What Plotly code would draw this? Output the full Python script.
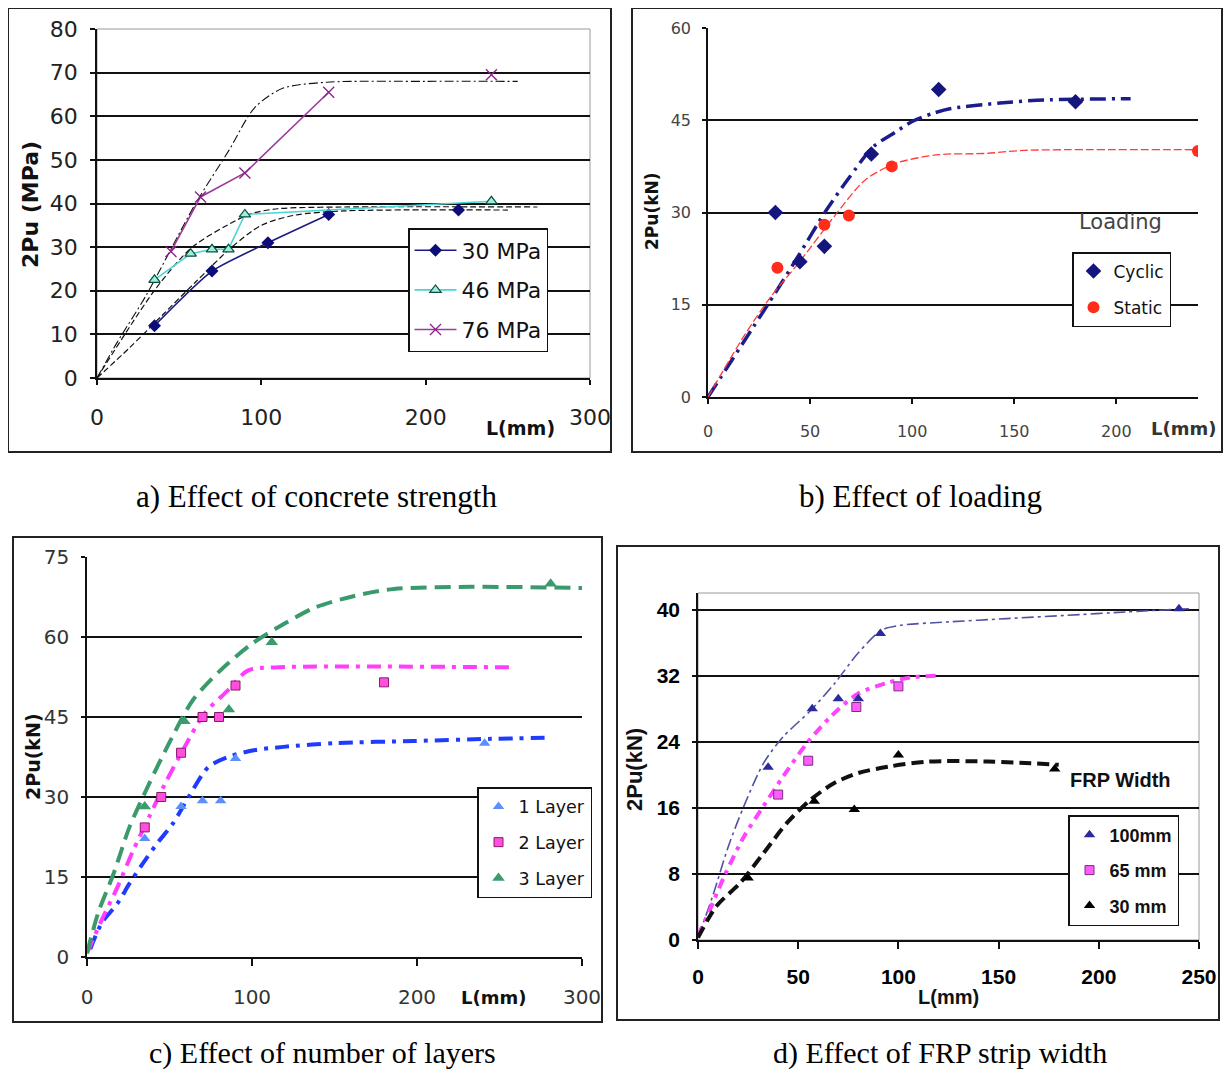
import plotly.graph_objects as go

# The page body has an 8px margin, so the figure is 16px smaller than the window and
# every reference pixel position is shifted by 8px.
OFF = 8
W, H = 1231 - 2 * OFF, 1082 - 2 * OFF


def fx(px):
    return (px - OFF) / W


def fy(py):
    return 1 - (py - OFF) / H


# ---------------- Panel a: Effect of concrete strength ----------------
A30_X = [35, 70, 104, 141, 220]
A30_Y = [12, 24.5, 31, 37.5, 38.5]
A46_X = [35, 57, 70, 80, 90, 240]
A46_Y = [22.5, 28.5, 29.5, 29.5, 37.5, 40.5]
A76_X = [45, 63, 90, 141, 240]
A76_Y = [29, 41.5, 47, 65.5, 69.5]
A76_FIT_X = [0, 12, 30, 60, 80, 96, 113, 140, 200, 256]
A76_FIT_Y = [0, 8, 19, 40, 52, 62, 66.4, 67.8, 68, 68]
A46_FIT_X = [0, 36, 58, 84, 94, 110, 150, 268]
A46_FIT_Y = [0, 20.6, 30, 36, 37.7, 38.8, 39.2, 39.2]
A30_FIT_X = [0, 20, 40, 60, 82, 100, 120, 150, 250]
A30_FIT_Y = [0, 7, 14.5, 22, 30, 35, 37.3, 38.3, 38.5]
A_XTICKS = [0, 100, 200, 300]
A_YTICKS = [0, 10, 20, 30, 40, 50, 60, 70, 80]

# ---------------- Panel b: Effect of loading ----------------
B_CYC_X = [33, 45, 57, 80, 113, 180]
B_CYC_Y = [30, 22, 24.5, 39.5, 50, 48]
B_STA_X = [34, 57, 69, 90, 240]
B_STA_Y = [21, 28, 29.5, 37.5, 40]
B_CYC_FIT_X = [0, 35, 44, 58, 69, 81, 91, 100, 110, 119, 143, 165, 207]
B_CYC_FIT_Y = [0, 18, 22.8, 30.4, 35.6, 40.7, 42.9, 44.8, 46.1, 46.9, 47.8, 48.3, 48.5]
B_STA_FIT_X = [0, 17.6, 31, 44.4, 61.7, 77, 92, 113, 136, 155, 240]
B_STA_FIT_Y = [0, 9.9, 16.4, 21.8, 29.3, 35.3, 38, 39.4, 39.6, 40.1, 40.2]
B_XTICKS = [0, 50, 100, 150, 200]
B_YTICKS = [0, 15, 30, 45, 60]

# ---------------- Panel c: Effect of number of layers ----------------
C1_X = [35, 57, 70, 81, 90, 241]
C1_Y = [22.2, 28.2, 29.3, 29.3, 37.2, 40.1]
C2_X = [35, 45, 57, 70, 80, 90, 180]
C2_Y = [24.3, 30, 38.3, 45, 45, 50.9, 51.5]
C3_X = [35, 59, 86, 112, 281]
C3_Y = [28.2, 44.2, 46.4, 59, 70]
C1_FIT_X = [2, 9, 18.6, 25.8, 34, 42.5, 52, 61.6, 73.5, 85.4, 102, 119, 150, 198, 245, 280]
C1_FIT_Y = [1.5, 6.4, 10.1, 13.8, 17.6, 21.3, 25, 30, 35.6, 37.5, 38.8, 39.4, 40.1, 40.5, 40.9, 41.1]
C2_FIT_X = [0, 9, 18.6, 28, 37.7, 47.3, 59.2, 71, 85.4, 97.4, 114, 260]
C2_FIT_Y = [0.7, 7, 13.2, 20, 26.3, 32.5, 39.4, 45.6, 50, 53.7, 54.3, 54.3]
C3_FIT_X = [0, 6.7, 16.2, 25.8, 37.7, 49.6, 64, 80.7, 99.8, 119, 138, 162, 186, 233, 300]
C3_FIT_Y = [0.7, 8.2, 15.7, 24.4, 32.5, 40, 48.1, 53.7, 58.7, 62.4, 65.5, 67.7, 69, 69.4, 69.2]
C_XTICKS = [0, 100, 200, 300]
C_YTICKS = [0, 15, 30, 45, 60, 75]

# ---------------- Panel d: Effect of FRP strip width ----------------
D100_X = [35, 57, 70, 80, 91, 240]
D100_Y = [20.9, 28, 29.2, 29.2, 37.1, 40.1]
D65_X = [40, 55, 79, 100]
D65_Y = [17.6, 21.7, 28.2, 30.7]
D30_X = [25, 58, 78, 100, 178]
D30_Y = [7.5, 16.8, 15.8, 22.4, 20.7]
D100_FIT_X = [0, 7.3, 15.1, 22.9, 32.7, 42.5, 56.3, 68, 79.8, 91.6, 101.4, 125, 154, 184, 213, 245]
D100_FIT_Y = [0.3, 5.3, 11.3, 16.2, 21.4, 24.6, 27.8, 31, 34.7, 37.5, 38.1, 38.5, 38.9, 39.3, 39.7, 40.1]
D65_FIT_X = [0, 5.3, 13.1, 22.9, 32.7, 42.5, 54.3, 66.1, 79.8, 95.5, 107, 121]
D65_FIT_Y = [0.5, 3.3, 7.7, 12.5, 16.2, 19.8, 23.8, 27, 29.8, 31.2, 31.8, 32]
D30_FIT_X = [0, 9.2, 21, 32.7, 44.5, 56.3, 68, 79.8, 95.5, 115, 144.5, 166, 180]
D30_FIT_Y = [0.3, 4.1, 6.9, 10.5, 14.2, 17, 19, 20.2, 21, 21.6, 21.6, 21.4, 21.2]
D_XTICKS = [0, 50, 100, 150, 200, 250]
D_YTICKS = [0, 8, 16, 24, 32, 40]

SANS = "DejaVu Sans"
ARIAL = "Liberation Sans"
SERIF = "Liberation Serif"

fig = go.Figure()


def add(ax, **kw):
    fig.add_trace(go.Scatter(xaxis="x" + ax, yaxis="y" + ax, **kw))


def fit(ax, x, y, color, width, dash, smooth=0.8):
    add(ax, x=x, y=y, mode="lines", showlegend=False, hoverinfo="skip",
        line=dict(color=color, width=width, dash=dash, shape="spline", smoothing=smooth))


def gap_after(vals, n):
    # the measured curve is drawn through the first n points only
    return list(vals[:n]) + [None] + list(vals[n:])


# ---- panel a traces
fit("", A76_FIT_X, A76_FIT_Y, "#111111", 1.1, "9px,3px,2px,3px")
fit("", A46_FIT_X, A46_FIT_Y, "#111111", 1.2, "6px,3px")
fit("", A30_FIT_X, A30_FIT_Y, "#111111", 1.2, "6px,3px")
add("", x=gap_after(A30_X, 4), y=gap_after(A30_Y, 4), mode="lines+markers", name="30 MPa",
    legend="legend", legendgroup="a1", connectgaps=False,
    marker=dict(symbol="diamond", size=10, color="#0d0d7a"),
    line=dict(color="#1a1a80", width=1.6, shape="spline", smoothing=0.6))
add("", x=A46_X, y=A46_Y, mode="lines+markers", name="46 MPa", legend="legend",
    legendgroup="a2",
    marker=dict(symbol="triangle-up", size=10, color="#9ef0d8",
                line=dict(color="#0b4d40", width=1.2)),
    line=dict(color="#45d6d6", width=1.6))
add("", x=gap_after(A76_X, 4), y=gap_after(A76_Y, 4), mode="lines+markers", name="76 MPa",
    legend="legend", legendgroup="a3", connectgaps=False,
    marker=dict(symbol="x-thin-open", size=11, color="#8a1f8a",
                line=dict(color="#8a1f8a", width=1.3)),
    line=dict(color="#9b3b9b", width=1.6))

# ---- panel b traces
fit("2", B_CYC_FIT_X, B_CYC_FIT_Y, "#1c1c8c", 3.5, "16px,6px,3px,6px")
fit("2", B_STA_FIT_X, B_STA_FIT_Y, "#ff3b3b", 1.3, "8px,3px")
add("2", x=B_CYC_X, y=B_CYC_Y, mode="markers", name="Cyclic", legend="legend2",
    legendgroup="b1", marker=dict(symbol="diamond", size=12, color="#15157e"))
add("2", x=B_STA_X, y=B_STA_Y, mode="markers", name="Static", legend="legend2",
    legendgroup="b2", marker=dict(symbol="circle", size=12, color="#ff2d1a"))

# ---- panel c traces
fit("3", C1_FIT_X, C1_FIT_Y, "#1f3bff", 4, "14px,7px,4px,7px")
fit("3", C2_FIT_X, C2_FIT_Y, "#ff3cff", 4, "14px,7px,4px,7px")
fit("3", C3_FIT_X, C3_FIT_Y, "#3b9a6c", 4, "16px,8px")
add("3", x=C1_X, y=C1_Y, mode="markers", name="1 Layer", legend="legend3",
    legendgroup="c1", marker=dict(symbol="triangle-up", size=10, color="#5b8ff9"))
add("3", x=C2_X, y=C2_Y, mode="markers", name="2 Layer", legend="legend3",
    legendgroup="c2", marker=dict(symbol="square", size=9, color="#ff4fdc",
                                  line=dict(color="#8b1a6b", width=1)))
add("3", x=C3_X, y=C3_Y, mode="markers", name="3 Layer", legend="legend3",
    legendgroup="c3", marker=dict(symbol="triangle-up", size=11, color="#3c9b6e"))

# ---- panel d traces
fit("4", D100_FIT_X, D100_FIT_Y, "#5252a3", 1.6, "12px,4px,3px,4px")
fit("4", D65_FIT_X, D65_FIT_Y, "#ff44ff", 4, "10px,6px,4px,6px")
fit("4", D30_FIT_X, D30_FIT_Y, "#111111", 4, "12px,6px")
add("4", x=D100_X, y=D100_Y, mode="markers", name="100mm", legend="legend4",
    legendgroup="d1", marker=dict(symbol="triangle-up", size=10, color="#2b2b9b"))
add("4", x=D65_X, y=D65_Y, mode="markers", name="65 mm", legend="legend4",
    legendgroup="d2", marker=dict(symbol="square", size=9, color="#ff5cff",
                                  line=dict(color="#7b2f7b", width=1)))
add("4", x=D30_X, y=D30_Y, mode="markers", name="30 mm", legend="legend4",
    legendgroup="d3", marker=dict(symbol="triangle-up", size=10, color="#000000"))


def xax(domain, rng, ticks, fam, size, color, ticklen, standoff, anchor, bold=False):
    return dict(domain=domain, range=rng, tickvals=ticks, showgrid=False, zeroline=False,
                showline=True, linecolor="#111111", linewidth=1.5, anchor=anchor,
                ticks="outside", ticklen=ticklen, tickcolor="#111111", tickwidth=1.5,
                ticklabelstandoff=standoff, automargin=False,
                tickfont=dict(family=fam, size=size, color=color,
                              weight="bold" if bold else "normal"),
                fixedrange=True)


def yax(domain, rng, ticks, fam, size, color, ticklen, standoff, anchor, bold=False):
    return dict(domain=domain, range=rng, tickvals=ticks, showgrid=True, gridcolor="#111111",
                gridwidth=1.5, zeroline=False, showline=True, linecolor="#111111",
                linewidth=1.5, ticks="outside", ticklen=ticklen, tickcolor="#111111",
                tickwidth=1.5, ticklabelstandoff=standoff, anchor=anchor, automargin=False,
                tickfont=dict(family=fam, size=size, color=color,
                              weight="bold" if bold else "normal"),
                fixedrange=True)


def legend(x, y, fam, size, gap, itemwidth=30, bold=False, bw=1.5):
    return dict(x=fx(x), y=fy(y), xanchor="left", yanchor="top", bgcolor="white",
                bordercolor="#111111", borderwidth=bw, traceorder="grouped",
                tracegroupgap=gap, itemwidth=itemwidth,
                font=dict(family=fam, size=size, color="#111111",
                          weight="bold" if bold else "normal"))


ax_a_x = xax([fx(97), fx(590)], [0, 300], A_XTICKS, SANS, 22, "#222222", 5, 14, "y")
ax_a_y = yax([fy(378), fy(29)], [0, 80], A_YTICKS, SANS, 22, "#222222", 5, 8, "x")
ax_b_x = xax([fx(708), fx(1198)], [0, 240], B_XTICKS, SANS, 16, "#444444", 5, 14, "y2")
ax_b_y = yax([fy(397), fy(28)], [0, 60], B_YTICKS, SANS, 16, "#444444", 4, 8, "x2")
ax_c_x = xax([fx(87), fx(582)], [0, 300], C_XTICKS, SANS, 20, "#333333", 7, 14, "y3")
ax_c_y = yax([fy(957), fy(557)], [0, 75], C_YTICKS, SANS, 20, "#333333", 4, 8, "x3")
ax_d_x = xax([fx(698), fx(1199)], [0, 250], D_XTICKS, ARIAL, 21, "#000000", 7, 10, "y4",
             bold=True)
ax_d_y = yax([fy(940), fy(593)], [0, 42], D_YTICKS, ARIAL, 21, "#000000", 4, 8, "x4",
             bold=True)

annotations = []


def text(x, y, s, fam, size, color="#111111", bold=False, angle=0, xanchor="center"):
    annotations.append(dict(x=fx(x), y=fy(y), xref="paper", yref="paper", text=s,
                            showarrow=False, textangle=angle, xanchor=xanchor,
                            yanchor="middle",
                            font=dict(family=fam, size=size, color=color,
                                      weight="bold" if bold else "normal")))


# axis titles
text(30, 205, "2Pu (MPa)", SANS, 22, bold=True, angle=-90)
text(520, 428, "L(mm)", SANS, 19, bold=True)
text(652, 212, "2Pu(kN)", SANS, 17, bold=True, angle=-90)
text(1183, 428, "L(mm)", SANS, 18, color="#333333", bold=True)
text(33, 757, "2Pu(kN)", SANS, 19, bold=True, angle=-90)
text(493, 997, "L(mm)", SANS, 18, bold=True)
text(634, 770, "2Pu(kN)", ARIAL, 22, bold=True, angle=-90)
text(948, 997, "L(mm)", ARIAL, 20, bold=True)
# panel notes
text(1120, 222, "Loading", SANS, 21, color="#444444")
text(1120, 780, "FRP Width", ARIAL, 20, bold=True)
# captions
text(316, 496, "a) Effect of concrete strength", SERIF, 31, color="#000000")
text(920, 496, "b) Effect of loading", SERIF, 31, color="#000000")
text(322, 1053, "c) Effect of number of layers", SERIF, 30, color="#000000")
text(940, 1053, "d) Effect of FRP strip width", SERIF, 30, color="#000000")

shapes = []
for (x0, y0, x1, y1) in [(8, 8, 611, 452), (632, 8, 1222, 452), (13, 537, 602, 1022),
                         (617, 546, 1219, 1020)]:
    shapes.append(dict(type="rect", xref="paper", yref="paper", x0=fx(x0), x1=fx(x1),
                       y0=fy(y1), y1=fy(y0), line=dict(color="#222222", width=2)))
for ax in ["", "4"]:
    shapes.append(dict(type="rect", xref="x" + ax + " domain", yref="y" + ax + " domain",
                       x0=0, x1=1, y0=0, y1=1, layer="below",
                       line=dict(color="#9a9a9a", width=1)))

fig.update_layout(
    width=W, height=H, margin=dict(l=0, r=0, t=0, b=0, autoexpand=False),
    paper_bgcolor="white", plot_bgcolor="white",
    xaxis=ax_a_x, yaxis=ax_a_y, xaxis2=ax_b_x, yaxis2=ax_b_y,
    xaxis3=ax_c_x, yaxis3=ax_c_y, xaxis4=ax_d_x, yaxis4=ax_d_y,
    legend=legend(408, 228, SANS, 22, 8, itemwidth=42),
    legend2=legend(1072, 252, SANS, 17, 11),
    legend3=legend(477, 787, SANS, 17.5, 10),
    legend4=legend(1068, 815, ARIAL, 18, 9, bold=True),
    annotations=annotations, shapes=shapes, showlegend=True,
)

fig.write_html("out.html")
